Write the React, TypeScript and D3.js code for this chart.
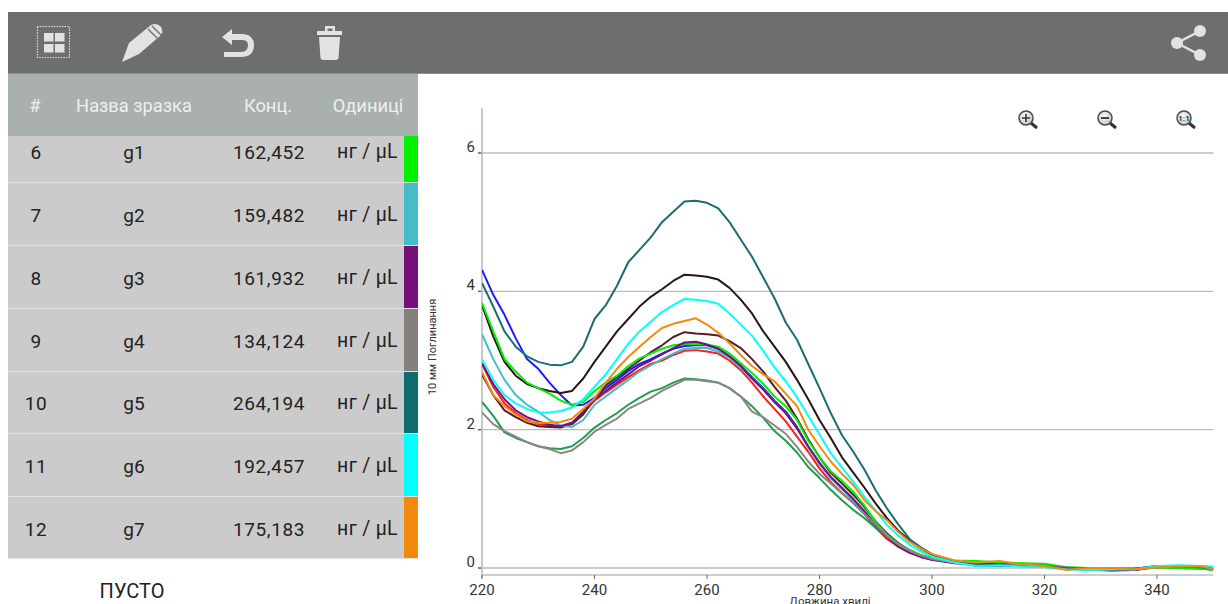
import React from "react";
import * as d3 from "d3";

const wavelengths = [220,222,224,226,228,230,232,234,236,238,240,242,244,246,248,250,252,254,256,258,260,262,264,266,268,270,272,274,276,278,280,282,284,286,288,290,292,294,296,298,300,304,308,312,316,320,324,328,332,336,340,344,348,350];

const s1 = [4.31,3.95,3.66,3.32,3.02,2.88,2.68,2.5,2.35,2.36,2.46,2.6,2.72,2.85,2.95,3.02,3.1,3.17,3.21,3.22,3.22,3.17,3.06,2.92,2.76,2.6,2.42,2.26,2.04,1.75,1.52,1.3,1.14,.98,.8,.6,.44,.32,.24,.17,.13,.08,.06,.05,.04,.03,.0,-.01,-.02,-.01,.03,.02,.02,-.01];
const s2 = [2.95,2.62,2.38,2.24,2.14,2.08,2.06,2.05,2.1,2.24,2.42,2.54,2.65,2.76,2.86,2.95,3.0,3.08,3.14,3.15,3.13,3.1,3.0,2.86,2.68,2.48,2.3,2.12,1.9,1.68,1.44,1.24,1.08,.94,.78,.58,.42,.31,.23,.16,.12,.08,.07,.07,.06,.03,-.01,-.02,-.04,-.03,.01,.02,.01,-.01];
const s3 = [2.4,2.2,1.96,1.88,1.82,1.76,1.73,1.72,1.76,1.88,2.03,2.14,2.24,2.36,2.46,2.55,2.6,2.68,2.74,2.73,2.71,2.68,2.6,2.48,2.34,2.17,1.98,1.84,1.67,1.46,1.3,1.13,.98,.84,.72,.58,.46,.33,.25,.18,.13,.09,.06,.05,.04,.04,.0,-.02,-.02,-.01,.01,.0,-.01,-.03];
const s4 = [3.8,3.35,2.98,2.78,2.66,2.6,2.56,2.53,2.56,2.74,2.98,3.2,3.42,3.6,3.78,3.92,4.03,4.15,4.24,4.23,4.21,4.17,4.05,3.88,3.68,3.42,3.2,2.98,2.72,2.44,2.14,1.88,1.6,1.38,1.16,.93,.72,.54,.4,.28,.19,.1,.06,.05,.04,.02,.0,-.01,-.02,-.02,.02,.02,.02,-.02];
const s5 = [2.8,2.5,2.28,2.18,2.1,2.05,2.04,2.03,2.08,2.22,2.45,2.64,2.76,2.88,3.0,3.12,3.22,3.34,3.41,3.39,3.38,3.36,3.28,3.18,3.02,2.84,2.62,2.42,2.16,1.86,1.6,1.38,1.22,1.06,.88,.67,.5,.36,.26,.18,.13,.08,.05,.06,.03,.03,.0,-.01,-.03,-.03,.02,.03,.01,-.02];
const g1 = [3.83,3.42,3.02,2.84,2.68,2.6,2.52,2.42,2.36,2.4,2.56,2.68,2.78,2.92,3.03,3.1,3.17,3.22,3.24,3.24,3.23,3.2,3.1,2.96,2.82,2.66,2.48,2.34,2.14,1.84,1.6,1.4,1.26,1.1,.9,.66,.48,.35,.26,.19,.15,.11,.1,.08,.07,.06,.01,.0,-.01,-.01,.01,.0,-.01,-.02];
const g2 = [3.38,3.02,2.72,2.5,2.36,2.26,2.14,2.06,2.04,2.14,2.36,2.48,2.6,2.72,2.84,2.93,3.02,3.1,3.17,3.18,3.18,3.13,3.04,2.9,2.74,2.58,2.4,2.24,2.02,1.74,1.5,1.3,1.14,.98,.82,.62,.46,.33,.24,.17,.13,.08,.05,.04,.03,.02,-.01,-.01,-.02,-.01,.02,.03,.02,-.01];
const g3 = [2.96,2.66,2.44,2.28,2.18,2.12,2.07,2.05,2.1,2.26,2.44,2.56,2.68,2.8,2.92,3.0,3.09,3.18,3.26,3.27,3.23,3.17,3.06,2.92,2.74,2.58,2.4,2.24,2.02,1.76,1.52,1.32,1.16,1.0,.82,.62,.45,.31,.22,.16,.12,.07,.05,.05,.04,.03,.0,.0,-.03,-.03,.03,.03,.02,-.01];
const g4 = [2.25,2.08,1.98,1.9,1.82,1.76,1.72,1.66,1.7,1.82,1.97,2.07,2.16,2.3,2.38,2.46,2.56,2.64,2.72,2.72,2.7,2.68,2.6,2.48,2.26,2.18,2.06,1.94,1.75,1.54,1.36,1.22,1.08,.94,.78,.63,.46,.34,.25,.18,.13,.08,.03,.03,.06,.03,.01,-.01,-.01,-.01,.02,.01,.03,.0];
const g5 = [4.12,3.78,3.42,3.2,3.06,2.98,2.94,2.93,2.98,3.2,3.6,3.8,4.08,4.42,4.6,4.78,5.0,5.15,5.3,5.31,5.28,5.2,5.0,4.75,4.5,4.2,3.9,3.55,3.3,2.95,2.6,2.24,1.92,1.68,1.42,1.12,.86,.63,.42,.3,.2,.1,.05,.04,.03,.02,.0,-.01,-.01,-.01,.02,.02,.01,-.02];
const g6 = [3.02,2.72,2.5,2.38,2.3,2.25,2.25,2.27,2.32,2.44,2.62,2.8,3.02,3.24,3.42,3.56,3.7,3.8,3.89,3.88,3.86,3.82,3.68,3.52,3.36,3.14,2.9,2.7,2.47,2.2,1.93,1.66,1.45,1.25,1.03,.83,.62,.47,.34,.24,.16,.08,.03,.04,.02,.01,-.02,-.03,-.02,-.02,.03,.04,.03,.02];
const g7 = [2.83,2.5,2.34,2.22,2.12,2.1,2.1,2.11,2.16,2.3,2.45,2.68,2.88,3.05,3.2,3.34,3.47,3.53,3.57,3.61,3.52,3.4,3.25,3.08,2.92,2.8,2.7,2.52,2.34,2.0,1.76,1.54,1.36,1.2,.98,.82,.69,.52,.38,.28,.2,.11,.08,.1,.05,.03,-.03,.0,.0,-.02,.01,.02,.02,-.02];

const seriesValues = [s1, s2, s3, s4, s5, g1, g2, g3, g4, g5, g6, g7];
const seriesColors = ["#1c1cff","#ff1c1c","#1f9e4c","#2a1418","#5a1c26","#00f000","#45bcc6","#78107a","#8a8886","#1a6d72","#00ffff","#f28a0c"];

const rowNumbers = ["6","7","8","9","10","11","12"];
const sampleNames = ["g1","g2","g3","g4","g5","g6","g7"];
const concentrations = ["162,452","159,482","161,932","134,124","264,194","192,457","175,183"];
const swatchColors = ["#00f000","#45bcc6","#78107a","#85807c","#106b6e","#00ffff","#f28a0c"];
const rowEdges = [136,183,246,309,372,434,497,559];
const rowTextY = [152,215,278,341,403,466,529];
const headers = [
  { label: "#", x: 35 },
  { label: "Назва зразка", x: 134 },
  { label: "Конц.", x: 268 },
  { label: "Одиниці", x: 368 },
];
const xTicks = [220,240,260,280,300,320,340];
const yTicks = [0,2,4,6];

const FONT = "Roboto, sans-serif";
const ICON = "#e2e2e2";

function Magnifier({ cx, cy, kind }: { cx: number; cy: number; kind: string }) {
  const id = "mg" + kind;
  return (
    <g>
      <defs>
        <radialGradient id={id} cx="45%" cy="40%" r="65%">
          <stop offset="0%" stopColor="#ffffff" />
          <stop offset="100%" stopColor="#bdbdbd" />
        </radialGradient>
      </defs>
      <line x1={cx + 5} y1={cy + 5} x2={cx + 11} y2={cy + 10} stroke="#333" strokeWidth={3} />
      <circle cx={cx} cy={cy} r={7} fill={`url(#${id})`} stroke="#4a4a4a" strokeWidth={1.5} />
      {kind === "plus" && <path d={`M${cx - 4} ${cy}h8M${cx} ${cy - 4}v8`} stroke="#333" strokeWidth={1.6} />}
      {kind === "minus" && <path d={`M${cx - 4} ${cy}h8`} stroke="#333" strokeWidth={1.8} />}
      {kind === "one" && (
        <text x={cx} y={cy + 3} textAnchor="middle" fontSize={8} fontWeight={700} fontFamily={FONT} fill="#333">1:1</text>
      )}
    </g>
  );
}

function Toolbar() {
  return (
    <g>
      <rect x={8} y={12} width={1220} height={62} fill="#6e6e6e" />
      <rect x={8} y={73} width={1220} height={1} fill="#8f8f8f" />
      {/* grid icon */}
      <rect x={37.5} y={26.5} width={32} height={31} fill="none" stroke={ICON} strokeWidth={1.2} strokeDasharray="1.5 1.2" />
      {[[44,33],[55,33],[44,44],[55,44]].map(([x, y], i) => (
        <rect key={i} x={x} y={y} width={9.5} height={8.5} fill={ICON} />
      ))}
      {/* pencil */}
      <path d="M122 62 L129 43 L151 25 Q157 22 161 27 Q164 32 160 36 L139 54 Z" fill={ICON} />
      <path d="M148 29 L158 39 M152 26 L161 35" stroke="#6e6e6e" strokeWidth={1.4} fill="none" />
      {/* undo */}
      <path d="M222 37 L232 29 V34 H243 Q254 35 254 45 Q254 57 241 57 H224 V52 H241 Q248 52 248 45 Q248 40 242 40 H232 V45 Z" fill={ICON} />
      {/* trash */}
      <path d="M317 31 H342 V35 H317 Z M325 31 V26 H335 V31 H332.5 V28.5 H327.5 V31 Z M319 37 H340 L338.5 58 Q338 60 336 60 H323 Q321 60 320.5 58 Z" fill={ICON} />
      {/* share */}
      <path d="M1200 31 L1177 43 L1200 55" fill="none" stroke={ICON} strokeWidth={2.5} />
      <circle cx={1200} cy={31} r={6} fill={ICON} />
      <circle cx={1177} cy={43} r={6} fill={ICON} />
      <circle cx={1200} cy={55} r={6} fill={ICON} />
    </g>
  );
}

function SampleTable() {
  return (
    <g fontFamily={FONT}>
      <rect x={8} y={74} width={410} height={62} fill="#a9b0ae" />
      {headers.map((h) => (
        <text key={h.label} x={h.x} y={112} textAnchor="middle" fontSize={18.3} fill="#eef0ef">{h.label}</text>
      ))}
      {rowNumbers.map((n, i) => {
        const top = rowEdges[i];
        const bottom = rowEdges[i + 1];
        const base = rowTextY[i] + 7;
        return (
          <g key={n}>
            <rect x={8} y={top} width={410} height={bottom - top} fill="#cbcbcb" />
            <rect x={8} y={bottom - 1} width={410} height={1} fill="#e0e0e0" />
            <rect x={404} y={top} width={14} height={bottom - top - 1} fill={swatchColors[i]} />
            <text x={36} y={base} textAnchor="middle" fontSize={19} letterSpacing={0.5} fill="#222">{n}</text>
            <text x={134} y={base} textAnchor="middle" fontSize={19} fill="#222">{sampleNames[i]}</text>
            <text x={269} y={base} textAnchor="middle" fontSize={19} letterSpacing={0.6} fill="#222">{concentrations[i]}</text>
            <text x={367.5} y={base - 1} textAnchor="middle" fontSize={19.5} letterSpacing={0.3} fill="#222">нг / μL</text>
          </g>
        );
      })}
      <text x={132} y={598} textAnchor="middle" fontSize={20} fill="#222">ПУСТО</text>
    </g>
  );
}

function Spectra() {
  const x = d3.scaleLinear().domain([220, 340]).range([482, 1157]);
  const y = d3.scaleLinear().domain([0, 6]).range([568, 153]);
  const right = x(350);
  const line = d3
    .line<number>()
    .x((_, i) => x(wavelengths[i]))
    .y((d) => y(d))
    .curve(d3.curveLinear);
  const GRID = "#bcbcbc";
  return (
    <g fontFamily={FONT}>
      <defs>
        <clipPath id="plot">
          <rect x={482} y={108} width={right - 482} height={470} />
        </clipPath>
      </defs>
      {yTicks.map((t) => (
        <g key={t}>
          <line x1={478} x2={right} y1={y(t)} y2={y(t)} stroke={GRID} strokeWidth={1.4} />
          <line x1={478} x2={482} y1={y(t)} y2={y(t)} stroke="#666" strokeWidth={1.4} />
          <text x={475} y={y(t) - 1} textAnchor="end" fontSize={15} fill="#333">{t}</text>
        </g>
      ))}
      <line x1={482} x2={482} y1={108} y2={578} stroke={GRID} strokeWidth={1.6} />
      <line x1={482} x2={right} y1={575} y2={575} stroke={GRID} strokeWidth={1.6} />
      {xTicks.map((t) => (
        <g key={t}>
          <line x1={x(t)} x2={x(t)} y1={575} y2={579} stroke="#666" strokeWidth={1} />
          <text x={x(t)} y={595} textAnchor="middle" fontSize={15} fill="#333">{t}</text>
        </g>
      ))}
      <text x={830} y={604.5} textAnchor="middle" fontSize={11.5} fill="#333">Довжина хвилі</text>
      <text transform="translate(436,347) rotate(-90)" textAnchor="middle" fontSize={11} fill="#333">10 мм Поглинання</text>
      <g clipPath="url(#plot)" fill="none" strokeWidth={2} strokeLinejoin="round">
        {seriesValues.map((values, i) => (
          <path key={i} d={line(values) ?? ""} stroke={seriesColors[i]} />
        ))}
      </g>
      <Magnifier cx={1026} cy={118} kind="plus" />
      <Magnifier cx={1105} cy={118} kind="minus" />
      <Magnifier cx={1184} cy={118} kind="one" />
    </g>
  );
}

export default function App() {
  return (
    <svg
      width={1228}
      height={604}
      viewBox="0 0 1228 604"
      style={{ position: "absolute", left: 0, top: 0, display: "block", background: "#fff" }}
    >
      <Toolbar />
      <SampleTable />
      <Spectra />
    </svg>
  );
}
